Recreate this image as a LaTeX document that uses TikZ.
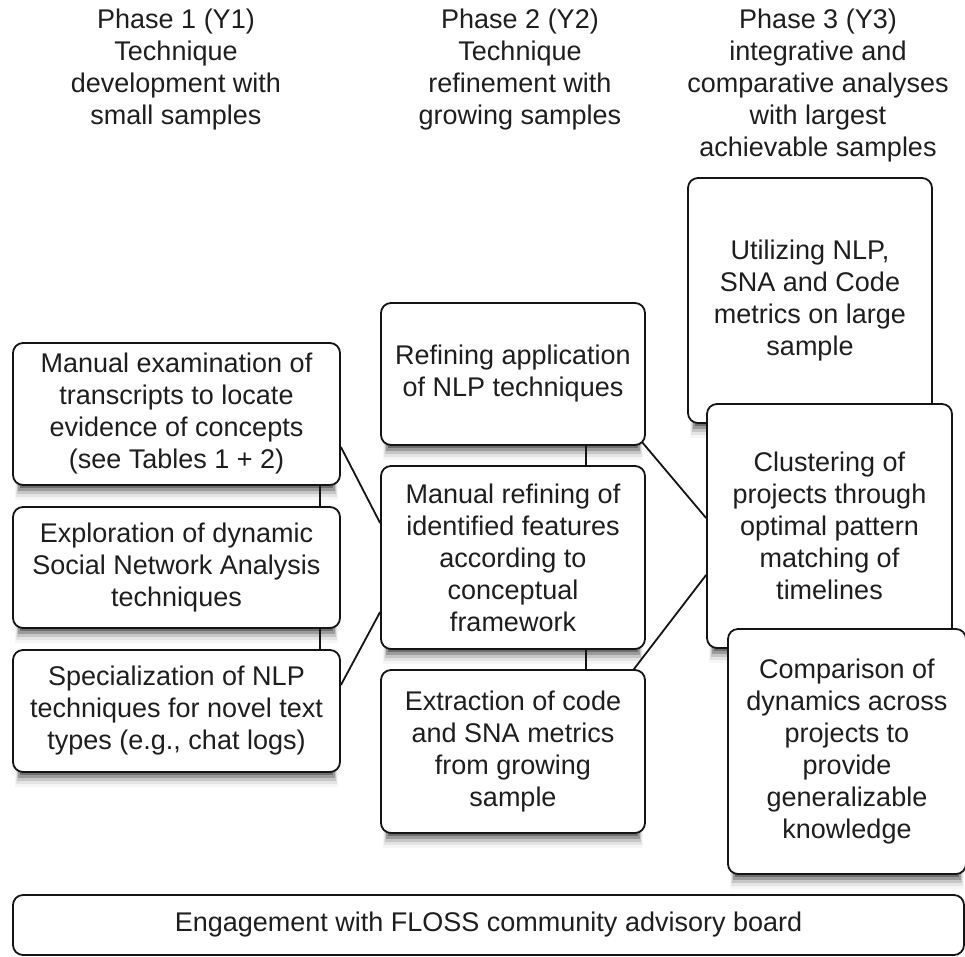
\documentclass[tikz,border=0pt]{standalone}
\usepackage{fontspec}
\setmainfont{Liberation Sans}
\begin{document}
\begin{tikzpicture}[x=1pt,y=-1pt,
  txt/.style={align=center, inner sep=0pt, font=\fontsize{27}{32}\selectfont, text={rgb,255:red,30;green,30;blue,30}},
  box/.style={txt, draw={rgb,255:red,20;green,20;blue,20}, line width=1.8pt, rounded corners=10pt, fill=white},
  sa/.style={fill={rgb,255:red,246;green,246;blue,246}},
  sb/.style={fill={rgb,255:red,228;green,228;blue,228}},
  sc/.style={fill={rgb,255:red,198;green,198;blue,198}},
  sd/.style={fill={rgb,255:red,155;green,155;blue,155}},
  se/.style={fill={rgb,255:red,110;green,110;blue,110}},
  link/.style={draw={rgb,255:red,20;green,20;blue,20}, line width=1.8pt}]
\useasboundingbox (0,0) rectangle (965,956);

% soft shadows under the boxes
% A
\path[sa] (15,465) rectangle (338,500);
\path[sb] (16,465) rectangle (337,497);
\path[sc] (17,465) rectangle (336,494);
\path[sd] (18,465) rectangle (335,491);
\path[se] (20,465) rectangle (333,488);
% B
\path[sa] (15,608) rectangle (338,643);
\path[sb] (16,608) rectangle (337,640);
\path[sc] (17,608) rectangle (336,637);
\path[sd] (18,608) rectangle (335,634);
\path[se] (20,608) rectangle (333,631);
% C
\path[sa] (15,752) rectangle (338,787);
\path[sb] (16,752) rectangle (337,784);
\path[sc] (17,752) rectangle (336,781);
\path[sd] (18,752) rectangle (335,778);
\path[se] (20,752) rectangle (333,775);
% D
\path[sa] (383,425) rectangle (643,460);
\path[sb] (384,425) rectangle (642,457);
\path[sc] (385,425) rectangle (641,454);
\path[sd] (386,425) rectangle (640,451);
\path[se] (388,425) rectangle (638,448);
% E
\path[sa] (383,629) rectangle (643,664);
\path[sb] (384,629) rectangle (642,661);
\path[sc] (385,629) rectangle (641,658);
\path[sd] (386,629) rectangle (640,655);
\path[se] (388,629) rectangle (638,652);
% F
\path[sa] (383,813) rectangle (643,848);
\path[sb] (384,813) rectangle (642,845);
\path[sc] (385,813) rectangle (641,842);
\path[sd] (386,813) rectangle (640,839);
\path[se] (388,813) rectangle (638,836);
% G
\path[sa] (690,403) rectangle (930,438);
\path[sb] (691,403) rectangle (929,435);
\path[sc] (692,403) rectangle (928,432);
\path[sd] (693,403) rectangle (927,429);
\path[se] (695,403) rectangle (925,426);
% H
\path[sa] (709,628) rectangle (950,663);
\path[sb] (710,628) rectangle (949,660);
\path[sc] (711,628) rectangle (948,657);
\path[sd] (712,628) rectangle (947,654);
\path[se] (714,628) rectangle (945,651);
% I
\path[sa] (730,854) rectangle (964,889);
\path[sb] (731,854) rectangle (963,886);
\path[sc] (732,854) rectangle (962,883);
\path[sd] (733,854) rectangle (961,880);
\path[se] (735,854) rectangle (959,877);

% headers
\node[txt] (h1) at (176,70) {Phase 1 (Y1)\\Technique\\development with\\small samples};
\node[txt] (h2) at (520,70) {Phase 2 (Y2)\\Technique\\refinement with\\growing samples};
\node[txt] (h3) at (818,86) {Phase 3 (Y3)\\integrative and\\comparative analyses\\with largest\\achievable samples};

% phase 1
\node[box, minimum width=327pt, minimum height=142pt] (A) at (176.5,414)
  {Manual examination of\\transcripts to locate\\evidence of concepts\\(see Tables 1 + 2)};
\node[box, minimum width=327pt, minimum height=121pt] (B) at (176.5,567.5)
  {Exploration of dynamic\\Social Network Analysis\\techniques};
\node[box, minimum width=327pt, minimum height=122pt] (C) at (176.5,711)
  {Specialization of NLP\\techniques for novel text\\types (e.g., chat logs)};

% phase 2
\node[box, minimum width=264pt, minimum height=142pt] (D) at (513,374)
  {Refining application\\of NLP techniques};
\node[box, minimum width=264pt, minimum height=183pt] (E) at (513,557.5)
  {Manual refining of\\identified features\\according to\\conceptual\\framework};
\node[box, minimum width=264pt, minimum height=163pt] (F) at (513,751.5)
  {Extraction of code\\and SNA metrics\\from growing\\sample};

% phase 3
\node[box, minimum width=244pt, minimum height=245pt] (G) at (810,300.5)
  {Utilizing NLP,\\SNA and Code\\metrics on large\\sample};
\node[box, minimum width=245pt, minimum height=244pt] (H) at (829.5,526)
  {Clustering of\\projects through\\optimal pattern\\matching of\\timelines};
\node[box, minimum width=238pt, minimum height=245pt] (I) at (847,751.5)
  {Comparison of\\dynamics across\\projects to\\provide\\generalizable\\knowledge};

% bottom bar
\node[box, minimum width=951pt, minimum height=60pt] (J) at (488.5,925)
  {Engagement with FLOSS community advisory board};

% connectors, from border to border
\draw[link] ([xshift=-21pt]A.south east) -- ([xshift=-21pt]B.north east);
\draw[link] ([xshift=-21pt]B.south east) -- ([xshift=-21pt]C.north east);
\draw[link] ([xshift=-60pt]D.south east) -- ([xshift=-60pt]E.north east);
\draw[link] ([xshift=-60pt]E.south east) -- ([xshift=-60pt]F.north east);
\draw[link] ([yshift=-33pt]A.east) -- ([yshift=34.5pt]E.west);
\draw[link] ([yshift=26pt]C.east) -- ([yshift=-54.5pt]E.west);
\draw[link] ([xshift=-4pt,yshift=4pt]D.south east) -- ([yshift=8pt]H.west);
\draw[link] ([xshift=-12pt]F.north east) -- ([yshift=-49pt]H.west);
\end{tikzpicture}
\end{document}
